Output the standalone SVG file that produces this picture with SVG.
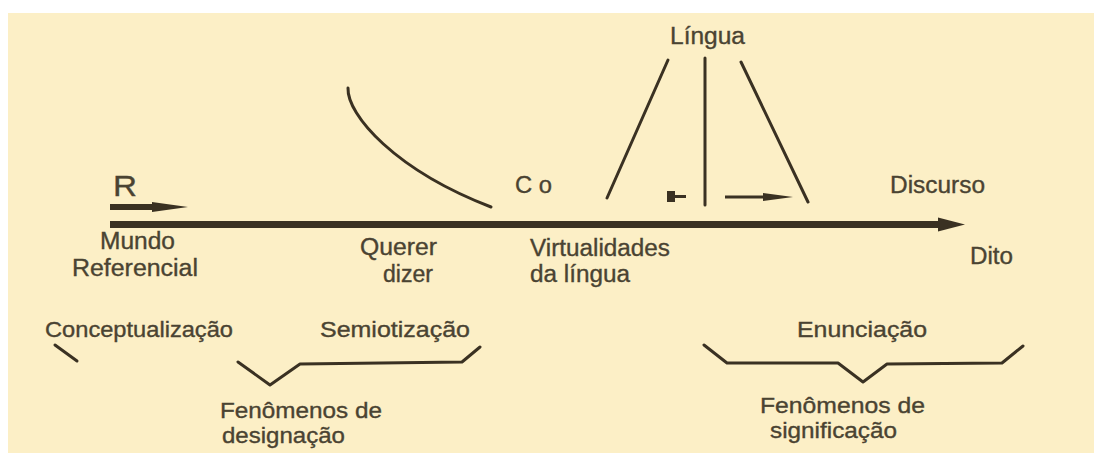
<svg xmlns="http://www.w3.org/2000/svg" width="1094" height="453" viewBox="0 0 1094 453">
  <style>
    .t { font-family: "Liberation Sans", Arial, sans-serif; font-size: 23px; fill: #4a4332; stroke: #4a4332; stroke-width: 0.35; }
    .b { font-size: 22px; }
    .ln { stroke: #3a3122; stroke-width: 3; fill: none; stroke-linecap: round; stroke-linejoin: round; }
  </style>
  <defs>
    <marker id="headBig" markerUnits="userSpaceOnUse" viewBox="0 -8 30 16" refX="0" refY="0" markerWidth="30" markerHeight="16" orient="auto">
      <path d="M0,-7 L27,0 L0,7 Z" fill="#3a3122"/>
    </marker>
    <marker id="headR" markerUnits="userSpaceOnUse" viewBox="0 -6 40 12" refX="0" refY="0" markerWidth="40" markerHeight="12" orient="auto">
      <path d="M0,-5 L36,0 L0,5 Z" fill="#3a3122"/>
    </marker>
    <marker id="headSmall" markerUnits="userSpaceOnUse" viewBox="0 -5 32 10" refX="0" refY="0" markerWidth="32" markerHeight="10" orient="auto">
      <path d="M0,-4 L30,0 L0,4 Z" fill="#3a3122"/>
    </marker>
  </defs>
  <rect x="0" y="0" width="1094" height="453" fill="#ffffff"/>
  <rect x="8" y="13" width="1086" height="440" fill="#FCEFC6"/>

  <g id="connectors">
    <line x1="110" y1="224.5" x2="938" y2="224.5" stroke="#3a3122" stroke-width="7" marker-end="url(#headBig)"/>
    <line x1="110" y1="207" x2="152" y2="207" stroke="#3a3122" stroke-width="6" marker-end="url(#headR)"/>
    <line x1="725" y1="197" x2="763" y2="197" stroke="#3a3122" stroke-width="3" marker-end="url(#headSmall)"/>
    <rect x="667" y="191" width="8" height="11" fill="#3a3122"/>
    <line x1="674" y1="196.5" x2="686" y2="196.5" stroke="#3a3122" stroke-width="3"/>
    <path class="ln" d="M348,88 C347,115 395,170 491,207"/>
    <line class="ln" x1="607" y1="198" x2="668" y2="60"/>
    <line class="ln" x1="705" y1="58" x2="705" y2="205"/>
    <line class="ln" x1="741" y1="62" x2="808" y2="202"/>
    <line class="ln" x1="55" y1="345" x2="77" y2="361"/>
    <polyline class="ln" points="238,362 270,385 300,364 462,362 480,347"/>
    <polyline class="ln" points="704,345 727,363 838,363 863,382 887,364 1002,363 1023,346"/>
  </g>

  <g id="node-R"><text class="t" x="113" y="196" style="font-size:30px" textLength="24" lengthAdjust="spacingAndGlyphs">R</text></g>
  <g id="node-mundo">
    <text class="t" x="100" y="249" textLength="75" lengthAdjust="spacingAndGlyphs">Mundo</text>
    <text class="t" x="72" y="276" textLength="126" lengthAdjust="spacingAndGlyphs">Referencial</text>
  </g>
  <g id="node-querer">
    <text class="t" x="360" y="255" textLength="77" lengthAdjust="spacingAndGlyphs">Querer</text>
    <text class="t" x="383" y="282" textLength="50" lengthAdjust="spacingAndGlyphs">dizer</text>
  </g>
  <g id="node-co"><text class="t" x="515" y="193" textLength="37" lengthAdjust="spacingAndGlyphs">C o</text></g>
  <g id="node-virtualidades">
    <text class="t" x="530" y="256" textLength="140" lengthAdjust="spacingAndGlyphs">Virtualidades</text>
    <text class="t" x="530" y="282" textLength="100" lengthAdjust="spacingAndGlyphs">da língua</text>
  </g>
  <g id="node-lingua"><text class="t" x="670" y="44" textLength="75" lengthAdjust="spacingAndGlyphs">Língua</text></g>
  <g id="node-discurso"><text class="t" x="890" y="193" textLength="95" lengthAdjust="spacingAndGlyphs">Discurso</text></g>
  <g id="node-dito"><text class="t" x="970" y="264" textLength="43" lengthAdjust="spacingAndGlyphs">Dito</text></g>
  <g id="node-conceptualizacao"><text class="t b" x="45" y="337" textLength="188" lengthAdjust="spacingAndGlyphs">Conceptualização</text></g>
  <g id="node-semiotizacao"><text class="t b" x="320" y="337" textLength="150" lengthAdjust="spacingAndGlyphs">Semiotização</text></g>
  <g id="node-enunciacao"><text class="t b" x="797" y="337" textLength="130" lengthAdjust="spacingAndGlyphs">Enunciação</text></g>
  <g id="node-designacao">
    <text class="t b" x="220" y="418" textLength="162" lengthAdjust="spacingAndGlyphs">Fenômenos de</text>
    <text class="t b" x="222" y="443" textLength="123" lengthAdjust="spacingAndGlyphs">designação</text>
  </g>
  <g id="node-significacao">
    <text class="t b" x="760" y="413" textLength="165" lengthAdjust="spacingAndGlyphs">Fenômenos de</text>
    <text class="t b" x="770" y="438" textLength="127" lengthAdjust="spacingAndGlyphs">significação</text>
  </g>
</svg>
